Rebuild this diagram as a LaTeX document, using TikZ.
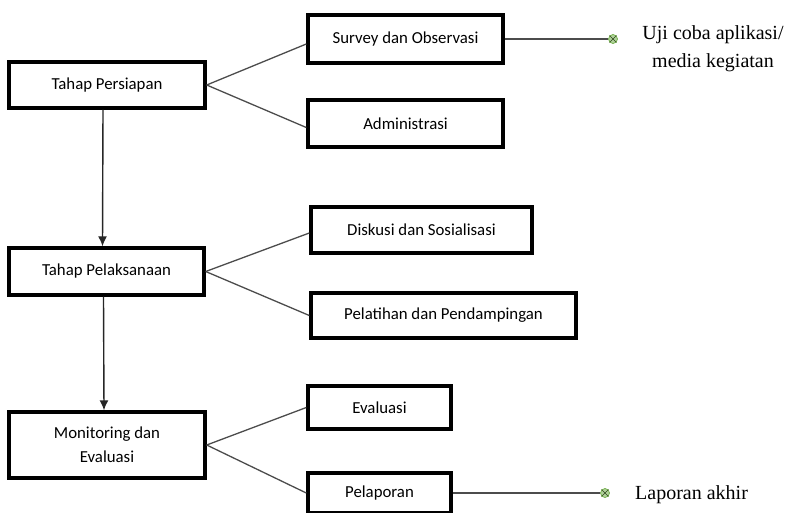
\documentclass[tikz,border=0pt]{standalone}
\usepackage{fontspec}
\setmainfont{Liberation Serif}
\newfontfamily\kotakfont{Carlito}
\usetikzlibrary{arrows.meta}
\definecolor{hijau}{HTML}{70AD47}
\tikzset{
  tahap/.style={draw, line width=3.4pt, inner sep=0pt, align=center,
    font=\kotakfont\fontsize{16.8}{24}\selectfont},
  garis/.style={draw=black!70, line width=1.3pt},
  panah/.style={draw=black!85, line width=1.4pt, -{Latex[length=10pt,width=9pt]}},
  titik/.style={circle, draw=hijau, fill=hijau!55, line width=0.7pt, minimum size=9pt, inner sep=0pt},
  catatan/.style={align=center, font=\fontsize{20}{28}\selectfont}
}

\begin{document}
\begin{tikzpicture}[x=1pt,y=-1pt]
\useasboundingbox (0,0) rectangle (790,512);
\node[tahap, minimum width=196pt, minimum height=46pt] (persiapan) at (107,85) {Tahap Persiapan};
\node[tahap, minimum width=195pt, minimum height=48pt] (survey) at (405.5,39) {Survey dan Observasi};
\node[tahap, minimum width=195pt, minimum height=47pt] (admin) at (405.5,123.5) {Administrasi};
\node[tahap, minimum width=195pt, minimum height=47pt] (pelaksanaan) at (106.5,271.5) {Tahap Pelaksanaan};
\node[tahap, minimum width=221pt, minimum height=46pt] (diskusi) at (421.5,230) {Diskusi dan Sosialisasi};
\node[tahap, minimum width=265pt, minimum height=45pt] (pelatihan) at (443.5,315.5) {Pelatihan dan Pendampingan};
\node[tahap, minimum width=196pt, minimum height=66pt] (monev) at (107,445) {Monitoring dan\\Evaluasi};
\node[tahap, minimum width=143pt, minimum height=43pt] (evaluasi) at (379.5,407.5) {Evaluasi};
\node[tahap, minimum width=143pt, minimum height=40pt] (pelaporan) at (379.5,493) {Pelaporan};

\node[titik] (titikA) at (613,39) {};
\node[titik] (titikB) at (605,493) {};
\node[catatan] (ujicoba) at (713,49) {Uji coba aplikasi/\\media kegiatan};
\node[catatan, anchor=west, inner sep=0pt] (laporan) at (635,495) {Laporan akhir};

\draw[panah] ([xshift=-4pt]persiapan.south) -- ([xshift=-4pt]pelaksanaan.north);
\draw[panah] ([xshift=-3pt]pelaksanaan.south) -- ([xshift=-3pt]monev.north);

\draw[garis] (persiapan.east) -- ([yshift=-5pt]survey.west);
\draw[garis] (persiapan.east) -- ([yshift=-4pt]admin.west);
\draw[garis] (pelaksanaan.east) -- ([yshift=-3pt]diskusi.west);
\draw[garis] (pelaksanaan.east) -- (pelatihan.west);
\draw[garis] (monev.east) -- (evaluasi.west);
\draw[garis] (monev.east) -- (pelaporan.west);

\draw[garis] (survey.east) -- (titikA.west);
\draw[garis] (pelaporan.east) -- (titikB.west);
\draw[hijau!40!black, line width=0.6pt] (titikA.45) -- (titikA.225) (titikA.135) -- (titikA.315);
\draw[hijau!40!black, line width=0.6pt] (titikB.45) -- (titikB.225) (titikB.135) -- (titikB.315);
\end{tikzpicture}
\end{document}
